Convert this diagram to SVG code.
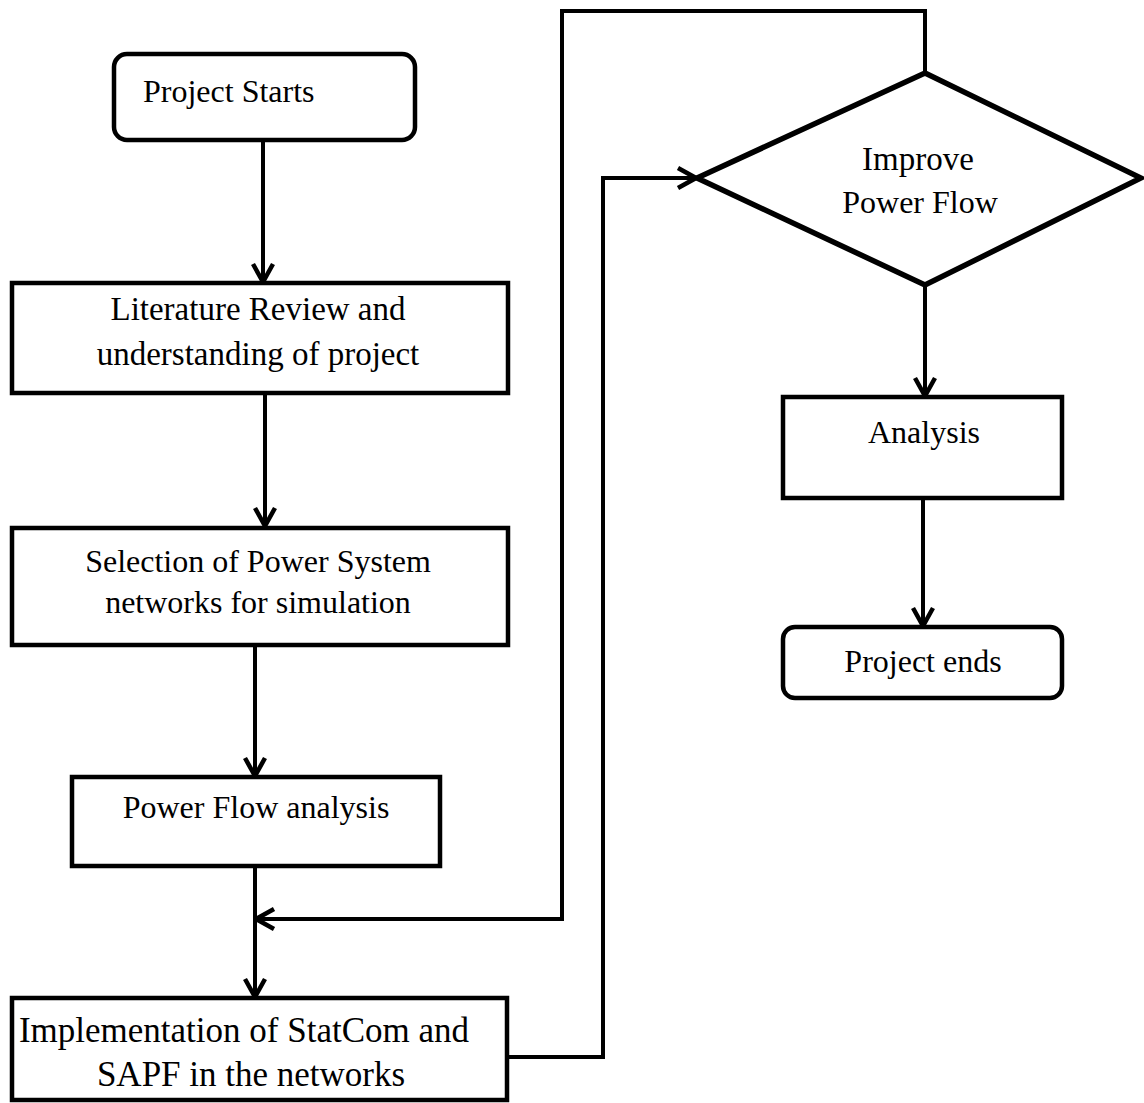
<svg xmlns="http://www.w3.org/2000/svg" width="1144" height="1103" viewBox="0 0 1144 1103">
  <style>
    .box { fill: #ffffff; stroke: #000000; stroke-width: 4.5; }
    .dia { fill: #ffffff; stroke: #000000; stroke-width: 5.5; stroke-linejoin: miter; }
    .edge { fill: none; stroke: #000000; stroke-width: 4; }
    .lbl { font-family: "Liberation Serif", "Times New Roman", serif; font-size: 32px; fill: #000000; }
    .c { text-anchor: middle; }
  </style>
  <defs>
    <marker id="arr" viewBox="0 0 24 24" refX="21" refY="12" markerWidth="24" markerHeight="24" markerUnits="userSpaceOnUse" orient="auto">
      <path d="M3,2 L21,12 L3,22" fill="none" stroke="#000000" stroke-width="4.5" stroke-linejoin="miter"/>
    </marker>
  </defs>
  <rect width="1144" height="1103" fill="#ffffff"/>

  <g id="connectors">
    <path class="edge" d="M263,140 L263,282" marker-end="url(#arr)"/>
    <path class="edge" d="M265,393 L265,526" marker-end="url(#arr)"/>
    <path class="edge" d="M255,645 L255,776" marker-end="url(#arr)"/>
    <path class="edge" d="M255,866 L255,997" marker-end="url(#arr)"/>
    <path class="edge" d="M507,1057 L603,1057 L603,178 L696,178" marker-end="url(#arr)"/>
    <path class="edge" d="M925,73 L925,11 L562,11 L562,919 L256,919" marker-end="url(#arr)"/>
    <path class="edge" d="M925,285 L925,396" marker-end="url(#arr)"/>
    <path class="edge" d="M923,498 L923,626" marker-end="url(#arr)"/>
  </g>

  <g id="project-starts">
    <rect class="box" x="114" y="54" width="301" height="86" rx="13"/>
    <text class="lbl" x="143" y="102">Project Starts</text>
  </g>

  <g id="literature-review">
    <rect class="box" x="12" y="283" width="496" height="110"/>
    <text class="lbl c" x="258" y="320" style="font-size:33px">Literature Review and</text>
    <text class="lbl c" x="258" y="365" style="font-size:33px">understanding of project</text>
  </g>

  <g id="selection">
    <rect class="box" x="12" y="528" width="496" height="117"/>
    <text class="lbl c" x="258" y="572">Selection of Power System</text>
    <text class="lbl c" x="258" y="613">networks for simulation</text>
  </g>

  <g id="power-flow-analysis">
    <rect class="box" x="72" y="777" width="368" height="89"/>
    <text class="lbl c" x="256" y="818">Power Flow analysis</text>
  </g>

  <g id="implementation">
    <rect class="box" x="12" y="998" width="495" height="102"/>
    <text class="lbl c" x="244" y="1042" style="font-size:35px">Implementation of StatCom and</text>
    <text class="lbl c" x="251" y="1086" style="font-size:35px">SAPF in the networks</text>
  </g>

  <g id="improve-power-flow">
    <polygon class="dia" points="925,73 1141,178 925,285 697,178"/>
    <text class="lbl c" x="918" y="170" style="font-size:33px">Improve</text>
    <text class="lbl c" x="920" y="213">Power Flow</text>
  </g>

  <g id="analysis">
    <rect class="box" x="783" y="397" width="279" height="101"/>
    <text class="lbl c" x="924" y="443">Analysis</text>
  </g>

  <g id="project-ends">
    <rect class="box" x="783" y="627" width="279" height="71" rx="12"/>
    <text class="lbl c" x="923" y="672">Project ends</text>
  </g>
</svg>
